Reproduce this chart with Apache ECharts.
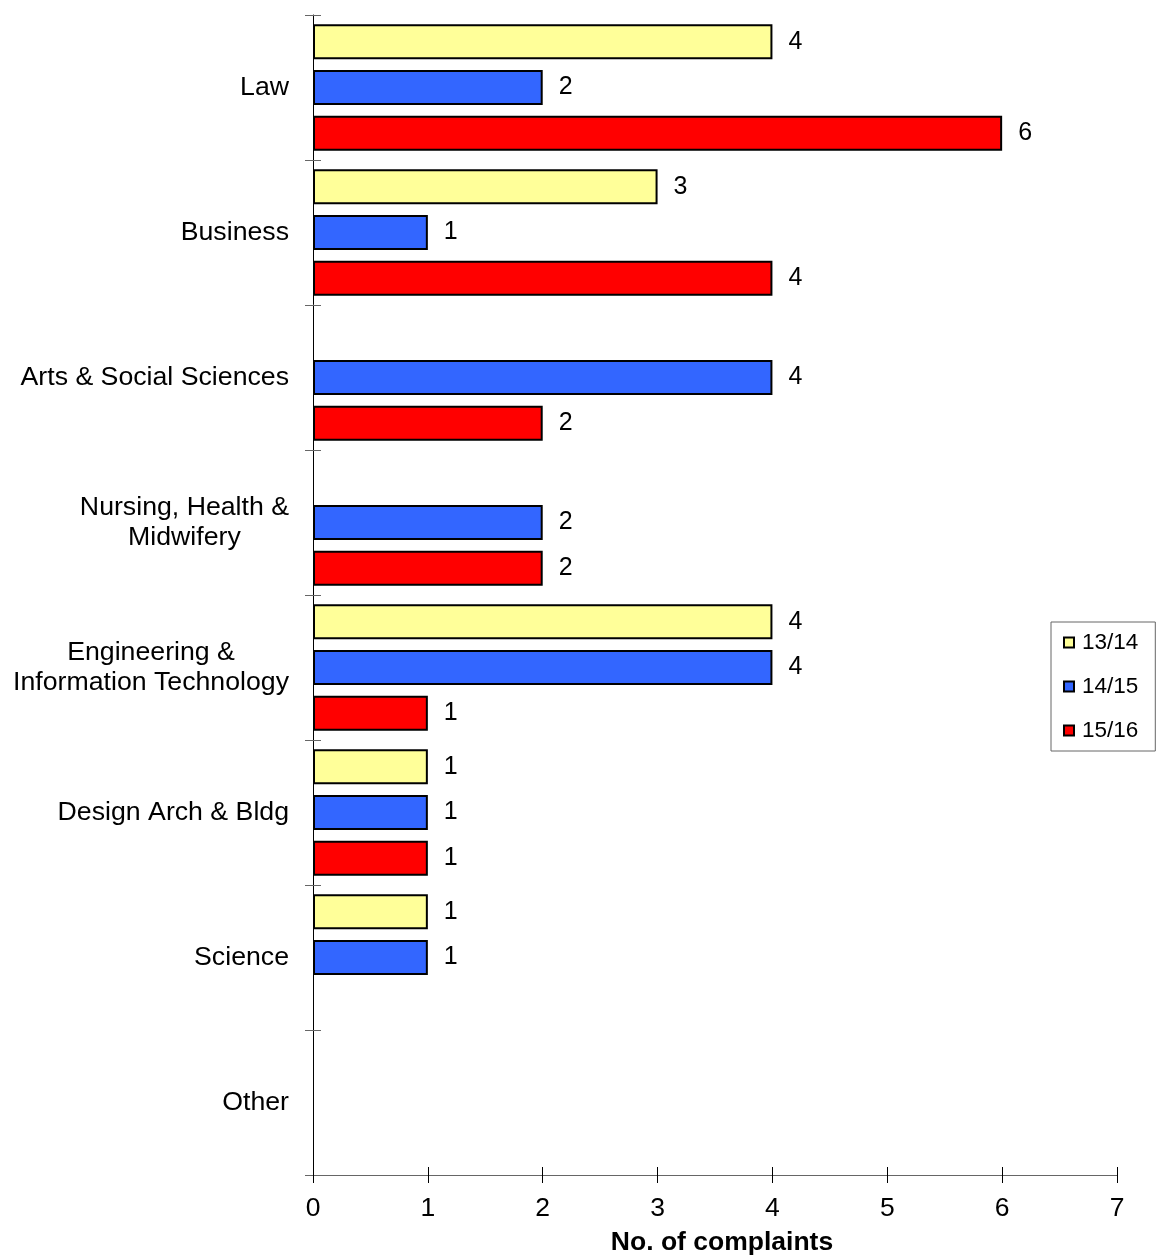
<!DOCTYPE html>
<html>
<head>
<meta charset="utf-8">
<title>Complaints by faculty</title>
<script src="https://cdn.jsdelivr.net/npm/echarts@6/dist/echarts.min.js"></script>
<style>
  html, body { margin: 0; padding: 0; background: #fff; }
  #chart { width: 1156px; height: 1257px; }
</style>
</head>
<body>
<div id="chart"></div>
<script>
// Faculties, listed top to bottom
const categories = [
  'Law',
  'Business',
  'Arts & Social Sciences',
  'Nursing, Health &\nMidwifery',
  'Engineering &\nInformation Technology',
  'Design Arch & Bldg',
  'Science',
  'Other'
];

// Complaint counts per academic year (null = no complaints recorded)
const years = ['13/14', '14/15', '15/16'];
const y1314 = [4, 3, null, null, 4, 1, 1, null];
const y1415 = [2, 1, 4, 2, 4, 1, 1, null];
const y1516 = [6, 4, 2, 2, 1, 1, null, null];

// Value axis ticks
const xTicks = [0, 1, 2, 3, 4, 5, 6, 7];

const FONT = "'Liberation Sans', Arial, Helvetica, sans-serif";
const colors = ['#FFFF99', '#3366FF', '#FF0000'];

const chart = echarts.init(document.getElementById('chart'), null, { renderer: 'canvas' });

function barSeries(name, data, color) {
  return {
    name: name,
    type: 'bar',
    data: data,
    xAxisIndex: 0,
    yAxisIndex: 0,
    barWidth: 35,
    barGap: '31%',
    itemStyle: { color: color, borderColor: '#000', borderWidth: 2 },
    label: {
      show: true,
      position: 'right',
      distance: 16,
      color: '#000',
      fontFamily: FONT,
      fontSize: 25
    },
    emphasis: { disabled: true },
    silent: true
  };
}

const option = {
  animation: false,
  backgroundColor: '#fff',
  textStyle: { fontFamily: FONT },
  grid: {
    left: 313, right: 39, top: 15, bottom: 82,
    containLabel: false,
    outerBoundsMode: 'none'
  },
  legend: {
    orient: 'vertical',
    left: 1051,
    top: 622,
    data: years,
    icon: 'rect',
    itemWidth: 10,
    itemHeight: 10,
    itemGap: 21,
    padding: [9, 17, 9, 12],
    borderColor: '#666',
    borderWidth: 1,
    itemStyle: { borderWidth: 2 },
    textStyle: { fontFamily: FONT, fontSize: 22.5, color: '#000', padding: [0, 0, 0, 3] },
    selectedMode: false
  },
  xAxis: [
    {
      type: 'value',
      position: 'bottom',
      min: xTicks[0],
      max: xTicks[xTicks.length - 1],
      interval: 1,
      name: 'No. of complaints',
      nameLocation: 'middle',
      nameGap: 54,
      nameTextStyle: {
        fontFamily: FONT, fontSize: 26.5, fontWeight: 'bold', color: '#000',
        padding: [0, 0, 0, 14]
      },
      axisLine: { show: true, lineStyle: { color: '#666', width: 1 } },
      axisTick: { show: true, length: 8, lineStyle: { color: '#000', width: 1 } },
      axisLabel: { margin: 20, color: '#000', fontFamily: FONT, fontSize: 26.5 },
      splitLine: { show: false }
    },
    {
      // inner half of the crossing ticks
      type: 'value',
      position: 'bottom',
      min: xTicks[0],
      max: xTicks[xTicks.length - 1],
      interval: 1,
      axisLine: { show: false },
      axisTick: { show: true, inside: true, length: 8, lineStyle: { color: '#000', width: 1 } },
      axisLabel: { show: false },
      splitLine: { show: false }
    }
  ],
  yAxis: [
    {
      type: 'category',
      position: 'left',
      inverse: true,
      data: categories,
      axisLine: { show: true, lineStyle: { color: '#000', width: 1 } },
      axisTick: { show: true, length: 8, interval: 0, lineStyle: { color: '#666', width: 1 } },
      axisLabel: {
        interval: 0,
        margin: 24,
        color: '#000',
        fontFamily: FONT,
        fontSize: 26.7,
        lineHeight: 30,
        formatter: function (v) {
          if (v.indexOf('\n') < 0) return v;
          return v.split('\n').map(function (s) { return '{c|' + s + '}'; }).join('\n');
        },
        rich: {
          c: { align: 'center', fontFamily: FONT, fontSize: 26.7, lineHeight: 30, color: '#000' }
        }
      },
      splitLine: { show: false }
    },
    {
      // inner half of the crossing ticks
      type: 'category',
      position: 'left',
      inverse: true,
      data: categories,
      axisLine: { show: false },
      axisTick: { show: true, inside: true, length: 8, interval: 0, lineStyle: { color: '#666', width: 1 } },
      axisLabel: { show: false },
      splitLine: { show: false }
    }
  ],
  series: [
    barSeries(years[0], y1314, colors[0]),
    barSeries(years[1], y1415, colors[1]),
    barSeries(years[2], y1516, colors[2])
  ]
};

chart.setOption(option);
</script>
</body>
</html>
